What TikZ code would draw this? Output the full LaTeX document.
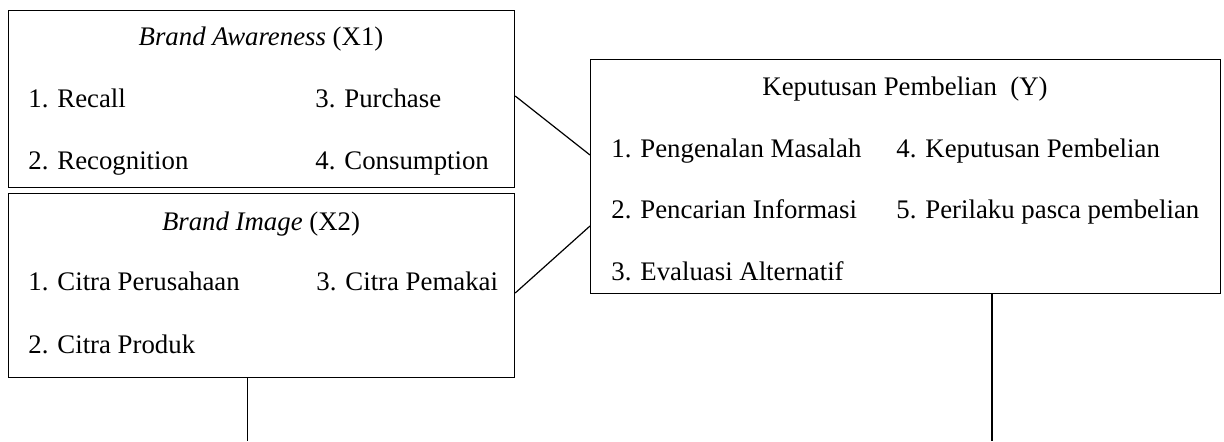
\documentclass[tikz,border=0pt]{standalone}
\usepackage{fontspec}
\setmainfont{Liberation Serif}
\begin{document}
\begin{tikzpicture}[x=0.5pt,y=-0.5pt,
  box/.style={draw,line width=0.6pt,rectangle,inner sep=0pt,anchor=north west},
  txt/.style={anchor=base west,inner sep=0pt,font=\fontsize{13.4}{16}\selectfont},
  ttl/.style={anchor=base,inner sep=0pt,font=\fontsize{13.4}{16}\selectfont},
  conn/.style={line width=0.6pt}]
\useasboundingbox (0,0) rectangle (1224,441);
% boxes
\node[box,minimum width=253pt,minimum height=88.7pt] (x1) at (8,9.5) {};
\node[box,minimum width=253pt,minimum height=92pt] (x2) at (8,193) {};
\node[box,minimum width=315pt,minimum height=117pt] (y) at (590,59) {};
% X1 texts
\node[ttl] (x1t) at (261,45) {\textit{Brand Awareness} (X1)};
\node[txt] (x1a) at (28,107) {1. Recall};
\node[txt] (x1b) at (28,169) {2. Recognition};
\node[txt] (x1c) at (315,107) {3. Purchase};
\node[txt] (x1d) at (315,169) {4. Consumption};
% X2 texts
\node[ttl] (x2t) at (261,230) {\textit{Brand Image} (X2)};
\node[txt] (x2a) at (28,290) {1. Citra Perusahaan};
\node[txt] (x2b) at (28,353) {2. Citra Produk};
\node[txt] (x2c) at (316,290) {3. Citra Pemakai};
% Y texts
\node[ttl] (yt) at (905,95) {Keputusan Pembelian\ \ (Y)};
\node[txt] (ya) at (611,157) {1. Pengenalan Masalah};
\node[txt] (yb) at (611,218) {2. Pencarian Informasi};
\node[txt] (yc) at (611,280) {3. Evaluasi Alternatif};
\node[txt] (yd) at (896,157) {4. Keputusan Pembelian};
\node[txt] (ye) at (896,218) {5. Perilaku pasca pembelian};
% connector end points
\coordinate (p1) at (x1.east |- 0,96);
\coordinate (q1) at (y.west |- 0,155);
\coordinate (p2) at (x2.east |- 0,293);
\coordinate (q2) at (y.west |- 0,226);
\coordinate (e1) at (247.7,441);
\coordinate (s1) at (x2.south -| e1);
\coordinate (e2) at (992,441);
\coordinate (s2) at (y.south -| e2);
\draw[conn] (p1) -- (q1);
\draw[conn] (p2) -- (q2);
\draw[conn] (s1) -- (e1);
\draw[conn] (s2) -- (e2);
\end{tikzpicture}
\end{document}
